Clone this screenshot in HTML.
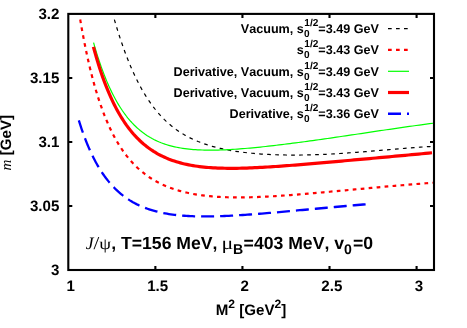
<!DOCTYPE html>
<html><head><meta charset="utf-8"><title>plot</title>
<style>
html,body{margin:0;padding:0;background:#fff;}
svg{display:block;will-change:transform;}
text{font-family:"Liberation Sans",sans-serif;font-weight:bold;fill:#000;text-rendering:geometricPrecision;font-kerning:none;}
.ser{font-family:"Liberation Serif",serif;font-weight:normal;}
.it{font-family:"Liberation Serif",serif;font-weight:normal;font-style:italic;}
</style></head><body>
<svg width="467" height="328" viewBox="0 0 467 328">
<rect width="467" height="328" fill="#fff"/>

<g fill="none" stroke-linecap="butt" stroke-linejoin="round">
<path d="M114.37,19.60 L114.47,19.93 L114.66,20.60 L114.93,21.50 L115.25,22.60 L115.63,23.87 L116.05,25.30 L116.53,26.85 L117.04,28.53 L117.59,30.31 L118.18,32.19 L118.81,34.17 L119.47,36.22 L120.17,38.34 L120.90,40.53 L121.66,42.77 L122.46,45.06 L123.28,47.40 L124.13,49.77 L125.01,52.17 L125.92,54.60 L126.86,57.04 L127.83,59.50 L128.82,61.96 L129.84,64.43 L130.88,66.90 L131.95,69.37 L133.04,71.82 L134.16,74.26 L135.31,76.69 L136.47,79.09 L137.66,81.48 L138.88,83.83 L140.11,86.16 L141.37,88.45 L142.66,90.71 L143.96,92.94 L145.29,95.13 L146.63,97.27 L148.00,99.38 L149.39,101.44 L150.80,103.46 L152.24,105.44 L153.69,107.37 L155.16,109.25 L156.66,111.09 L158.17,112.88 L159.70,114.62 L161.26,116.31 L162.83,117.96 L164.42,119.56 L166.03,121.11 L167.66,122.61 L169.31,124.07 L170.98,125.48 L172.67,126.84 L174.37,128.16 L176.09,129.43 L177.84,130.66 L179.60,131.85 L181.37,132.99 L183.17,134.10 L184.98,135.16 L186.81,136.18 L188.66,137.17 L190.53,138.11 L192.41,139.02 L194.31,139.90 L196.23,140.73 L198.16,141.54 L200.12,142.31 L202.08,143.05 L204.07,143.76 L206.07,144.44 L208.09,145.09 L210.12,145.71 L212.17,146.31 L214.24,146.88 L216.32,147.42 L218.42,147.94 L220.54,148.43 L222.67,148.91 L224.82,149.36 L226.98,149.78 L229.16,150.19 L231.35,150.58 L233.56,150.95 L235.79,151.30 L238.03,151.63 L240.29,151.94 L242.56,152.23 L244.84,152.51 L247.14,152.78 L249.46,153.02 L251.79,153.25 L254.14,153.47 L256.50,153.67 L258.88,153.85 L261.27,154.03 L263.67,154.18 L266.09,154.33 L268.53,154.46 L270.98,154.58 L273.44,154.68 L275.92,154.77 L278.41,154.85 L280.92,154.92 L283.44,154.97 L285.98,155.02 L288.52,155.05 L291.09,155.06 L293.67,155.07 L296.26,155.07 L298.86,155.05 L301.48,155.02 L304.11,154.98 L306.76,154.93 L309.42,154.87 L312.10,154.80 L314.78,154.72 L317.49,154.62 L320.20,154.52 L322.93,154.41 L325.67,154.28 L328.43,154.15 L331.19,154.01 L333.98,153.85 L336.77,153.69 L339.58,153.52 L342.40,153.34 L345.24,153.16 L348.08,152.96 L350.95,152.76 L353.82,152.55 L356.71,152.33 L359.61,152.11 L362.52,151.88 L365.45,151.65 L368.38,151.41 L371.34,151.16 L374.30,150.91 L377.28,150.66 L380.27,150.41 L383.27,150.15 L386.28,149.89 L389.31,149.63 L392.35,149.37 L395.40,149.11 L398.47,148.86 L401.55,148.60 L404.64,148.35 L407.74,148.10 L410.85,147.85 L413.98,147.61 L417.12,147.38 L420.27,147.16 L423.44,146.94 L426.61,146.73 L429.80,146.54 L433.00,146.35" stroke="#000" stroke-width="1.2" stroke-dasharray="3.7,4.3"/>
<path d="M80.20,19.50 L80.31,20.12 L80.52,21.39 L80.82,23.09 L81.17,25.15 L81.59,27.51 L82.06,30.14 L82.59,32.98 L83.15,36.02 L83.77,39.23 L84.42,42.58 L85.12,46.05 L85.85,49.62 L86.62,53.28 L87.43,57.00 L88.27,60.77 L89.15,64.57 L90.06,68.40 L91.01,72.24 L91.98,76.08 L92.99,79.90 L94.03,83.71 L95.10,87.48 L96.20,91.22 L97.33,94.92 L98.48,98.56 L99.67,102.15 L100.88,105.68 L102.12,109.14 L103.38,112.54 L104.67,115.87 L105.99,119.12 L107.34,122.30 L108.71,125.40 L110.10,128.42 L111.52,131.36 L112.96,134.22 L114.43,137.00 L115.92,139.70 L117.44,142.31 L118.98,144.85 L120.54,147.31 L122.13,149.69 L123.74,151.99 L125.37,154.21 L127.02,156.36 L128.70,158.43 L130.39,160.43 L132.11,162.35 L133.86,164.21 L135.62,165.99 L137.40,167.71 L139.21,169.36 L141.03,170.95 L142.88,172.48 L144.75,173.94 L146.64,175.34 L148.54,176.69 L150.47,177.97 L152.42,179.21 L154.39,180.38 L156.38,181.51 L158.38,182.59 L160.41,183.61 L162.46,184.59 L164.53,185.52 L166.61,186.41 L168.71,187.25 L170.84,188.05 L172.98,188.81 L175.14,189.53 L177.32,190.21 L179.52,190.85 L181.73,191.45 L183.97,192.02 L186.22,192.55 L188.49,193.05 L190.78,193.52 L193.09,193.96 L195.41,194.37 L197.75,194.74 L200.11,195.09 L202.49,195.41 L204.89,195.70 L207.30,195.97 L209.73,196.21 L212.18,196.43 L214.64,196.62 L217.12,196.79 L219.62,196.94 L222.13,197.07 L224.66,197.17 L227.21,197.26 L229.78,197.33 L232.36,197.37 L234.96,197.40 L237.57,197.42 L240.20,197.41 L242.85,197.39 L245.51,197.35 L248.19,197.30 L250.89,197.23 L253.60,197.15 L256.33,197.06 L259.07,196.95 L261.83,196.83 L264.61,196.70 L267.40,196.56 L270.21,196.41 L273.03,196.24 L275.87,196.07 L278.72,195.89 L281.59,195.69 L284.48,195.49 L287.38,195.28 L290.29,195.07 L293.22,194.84 L296.17,194.61 L299.13,194.38 L302.11,194.13 L305.10,193.88 L308.10,193.63 L311.12,193.37 L314.16,193.11 L317.21,192.84 L320.28,192.57 L323.36,192.29 L326.45,192.01 L329.56,191.73 L332.69,191.44 L335.82,191.16 L338.98,190.87 L342.15,190.58 L345.33,190.28 L348.52,189.99 L351.74,189.69 L354.96,189.40 L358.20,189.10 L361.45,188.80 L364.72,188.50 L368.00,188.20 L371.30,187.91 L374.61,187.61 L377.94,187.31 L381.27,187.02 L384.63,186.72 L387.99,186.43 L391.37,186.13 L394.77,185.84 L398.17,185.55 L401.60,185.26 L405.03,184.97 L408.48,184.68 L411.94,184.40 L415.42,184.11 L418.91,183.83 L422.41,183.55 L425.93,183.27 L429.46,183.00 L433.00,182.73" stroke="#f00" stroke-width="2.2" stroke-dasharray="3.7,4.3"/>
<path d="M93.55,42.60 L93.65,42.96 L93.86,43.69 L94.14,44.67 L94.48,45.86 L94.89,47.23 L95.34,48.76 L95.84,50.43 L96.39,52.21 L96.98,54.11 L97.61,56.10 L98.28,58.17 L98.98,60.31 L99.72,62.52 L100.50,64.78 L101.31,67.08 L102.16,69.41 L103.04,71.78 L103.95,74.16 L104.88,76.56 L105.85,78.96 L106.85,81.37 L107.88,83.76 L108.94,86.15 L110.02,88.52 L111.14,90.88 L112.28,93.20 L113.44,95.50 L114.63,97.77 L115.85,100.00 L117.09,102.19 L118.36,104.34 L119.66,106.45 L120.97,108.51 L122.31,110.53 L123.68,112.49 L125.07,114.40 L126.48,116.26 L127.92,118.07 L129.38,119.82 L130.86,121.52 L132.36,123.16 L133.89,124.74 L135.44,126.27 L137.00,127.75 L138.60,129.16 L140.21,130.52 L141.84,131.83 L143.50,133.08 L145.17,134.28 L146.87,135.43 L148.58,136.52 L150.32,137.56 L152.08,138.55 L153.85,139.49 L155.65,140.38 L157.47,141.22 L159.30,142.02 L161.16,142.77 L163.03,143.47 L164.93,144.14 L166.84,144.76 L168.77,145.34 L170.72,145.88 L172.69,146.38 L174.68,146.84 L176.69,147.27 L178.71,147.66 L180.76,148.02 L182.82,148.35 L184.90,148.65 L186.99,148.91 L189.11,149.15 L191.24,149.36 L193.39,149.54 L195.56,149.70 L197.74,149.83 L199.94,149.94 L202.16,150.02 L204.40,150.08 L206.65,150.12 L208.92,150.14 L211.21,150.15 L213.52,150.13 L215.84,150.09 L218.17,150.04 L220.53,149.97 L222.90,149.88 L225.29,149.78 L227.69,149.66 L230.11,149.53 L232.55,149.39 L235.00,149.23 L237.47,149.06 L239.95,148.88 L242.45,148.69 L244.97,148.48 L247.50,148.27 L250.04,148.04 L252.61,147.80 L255.19,147.56 L257.78,147.30 L260.39,147.03 L263.01,146.76 L265.65,146.48 L268.31,146.19 L270.98,145.89 L273.67,145.58 L276.37,145.26 L279.08,144.94 L281.81,144.61 L284.56,144.27 L287.32,143.93 L290.10,143.58 L292.89,143.22 L295.69,142.86 L298.51,142.49 L301.34,142.11 L304.19,141.73 L307.06,141.34 L309.94,140.95 L312.83,140.55 L315.73,140.14 L318.66,139.73 L321.59,139.32 L324.54,138.90 L327.50,138.47 L330.48,138.04 L333.47,137.61 L336.48,137.17 L339.50,136.73 L342.53,136.28 L345.58,135.83 L348.64,135.38 L351.72,134.93 L354.81,134.47 L357.91,134.00 L361.03,133.54 L364.16,133.07 L367.31,132.60 L370.46,132.13 L373.64,131.66 L376.82,131.19 L380.02,130.71 L383.23,130.24 L386.46,129.76 L389.69,129.29 L392.95,128.81 L396.21,128.34 L399.49,127.87 L402.78,127.39 L406.09,126.92 L409.41,126.45 L412.74,125.99 L416.08,125.52 L419.44,125.06 L422.81,124.61 L426.19,124.16 L429.59,123.71 L433.00,123.27" stroke="#0f0" stroke-width="1.2"/>
<path d="M93.42,46.90 L93.52,47.28 L93.73,48.05 L94.01,49.09 L94.36,50.35 L94.76,51.79 L95.21,53.41 L95.71,55.16 L96.26,57.05 L96.84,59.04 L97.47,61.14 L98.14,63.32 L98.84,65.57 L99.59,67.89 L100.36,70.26 L101.17,72.68 L102.01,75.14 L102.89,77.62 L103.80,80.12 L104.73,82.64 L105.70,85.17 L106.70,87.70 L107.72,90.22 L108.78,92.74 L109.86,95.24 L110.97,97.72 L112.10,100.18 L113.27,102.61 L114.45,105.01 L115.67,107.38 L116.91,109.71 L118.17,112.01 L119.46,114.26 L120.78,116.47 L122.12,118.64 L123.48,120.76 L124.86,122.83 L126.27,124.86 L127.71,126.83 L129.16,128.75 L130.64,130.62 L132.14,132.44 L133.66,134.21 L135.20,135.92 L136.77,137.58 L138.36,139.19 L139.96,140.75 L141.59,142.26 L143.24,143.71 L144.91,145.11 L146.61,146.46 L148.32,147.76 L150.05,149.01 L151.80,150.21 L153.58,151.37 L155.37,152.47 L157.18,153.53 L159.01,154.54 L160.86,155.51 L162.73,156.43 L164.62,157.31 L166.53,158.15 L168.46,158.95 L170.40,159.70 L172.37,160.42 L174.35,161.10 L176.35,161.74 L178.37,162.34 L180.41,162.91 L182.46,163.44 L184.54,163.94 L186.63,164.41 L188.74,164.85 L190.86,165.25 L193.01,165.63 L195.17,165.97 L197.35,166.29 L199.55,166.59 L201.76,166.85 L203.99,167.09 L206.24,167.31 L208.50,167.50 L210.78,167.67 L213.08,167.82 L215.40,167.95 L217.73,168.06 L220.08,168.14 L222.44,168.21 L224.82,168.26 L227.22,168.30 L229.63,168.32 L232.06,168.32 L234.51,168.30 L236.97,168.28 L239.45,168.23 L241.94,168.18 L244.45,168.11 L246.98,168.03 L249.52,167.94 L252.07,167.83 L254.64,167.72 L257.23,167.60 L259.83,167.46 L262.45,167.32 L265.09,167.17 L267.73,167.01 L270.40,166.84 L273.08,166.67 L275.77,166.49 L278.48,166.30 L281.20,166.11 L283.94,165.90 L286.70,165.70 L289.46,165.49 L292.25,165.27 L295.05,165.05 L297.86,164.82 L300.68,164.59 L303.53,164.36 L306.38,164.12 L309.25,163.88 L312.14,163.64 L315.04,163.39 L317.95,163.14 L320.88,162.89 L323.82,162.63 L326.78,162.37 L329.75,162.11 L332.73,161.85 L335.73,161.59 L338.74,161.32 L341.77,161.05 L344.81,160.78 L347.86,160.51 L350.93,160.23 L354.01,159.95 L357.11,159.68 L360.22,159.40 L363.34,159.12 L366.48,158.83 L369.63,158.55 L372.79,158.26 L375.97,157.97 L379.16,157.68 L382.36,157.39 L385.58,157.10 L388.81,156.80 L392.05,156.51 L395.31,156.21 L398.58,155.90 L401.86,155.60 L405.16,155.30 L408.47,154.99 L411.79,154.68 L415.13,154.36 L418.47,154.05 L421.84,153.73 L425.21,153.41 L428.60,153.08 L432.00,152.75" stroke="#f00" stroke-width="3.2"/>
<path d="M78.83,120.30 L78.92,120.58 L79.09,121.14 L79.33,121.91 L79.62,122.84 L79.96,123.91 L80.35,125.09 L80.77,126.39 L81.23,127.78 L81.73,129.26 L82.26,130.81 L82.83,132.43 L83.43,134.10 L84.06,135.82 L84.71,137.59 L85.40,139.39 L86.12,141.22 L86.86,143.08 L87.63,144.95 L88.42,146.84 L89.24,148.74 L90.09,150.64 L90.96,152.54 L91.85,154.44 L92.77,156.33 L93.71,158.21 L94.67,160.08 L95.66,161.93 L96.67,163.76 L97.70,165.57 L98.75,167.36 L99.82,169.12 L100.92,170.85 L102.03,172.56 L103.17,174.24 L104.32,175.88 L105.50,177.49 L106.69,179.07 L107.91,180.61 L109.14,182.12 L110.39,183.60 L111.67,185.03 L112.96,186.43 L114.27,187.80 L115.59,189.12 L116.94,190.41 L118.30,191.67 L119.69,192.88 L121.09,194.06 L122.50,195.20 L123.94,196.31 L125.39,197.38 L126.86,198.41 L128.35,199.40 L129.85,200.37 L131.37,201.29 L132.91,202.19 L134.46,203.05 L136.03,203.87 L137.61,204.66 L139.22,205.42 L140.84,206.15 L142.47,206.85 L144.12,207.52 L145.79,208.16 L147.47,208.77 L149.16,209.35 L150.88,209.90 L152.61,210.42 L154.35,210.92 L156.11,211.39 L157.88,211.84 L159.67,212.26 L161.48,212.66 L163.29,213.03 L165.13,213.38 L166.98,213.71 L168.84,214.02 L170.72,214.30 L172.61,214.57 L174.52,214.81 L176.44,215.04 L178.37,215.24 L180.32,215.43 L182.28,215.60 L184.26,215.75 L186.25,215.89 L188.26,216.01 L190.28,216.11 L192.31,216.20 L194.36,216.28 L196.42,216.33 L198.49,216.38 L200.58,216.41 L202.68,216.43 L204.80,216.43 L206.93,216.43 L209.07,216.41 L211.22,216.38 L213.39,216.34 L215.57,216.29 L217.77,216.23 L219.97,216.16 L222.19,216.08 L224.43,215.99 L226.67,215.89 L228.93,215.78 L231.21,215.67 L233.49,215.54 L235.79,215.41 L238.10,215.27 L240.42,215.13 L242.76,214.98 L245.11,214.82 L247.47,214.66 L249.84,214.49 L252.22,214.31 L254.62,214.13 L257.03,213.94 L259.46,213.75 L261.89,213.56 L264.34,213.36 L266.80,213.16 L269.27,212.95 L271.75,212.74 L274.25,212.52 L276.75,212.30 L279.27,212.08 L281.80,211.86 L284.35,211.63 L286.90,211.40 L289.47,211.17 L292.05,210.94 L294.64,210.70 L297.24,210.46 L299.85,210.22 L302.48,209.98 L305.12,209.74 L307.76,209.50 L310.42,209.25 L313.10,209.00 L315.78,208.76 L318.47,208.51 L321.18,208.26 L323.90,208.01 L326.62,207.76 L329.36,207.51 L332.12,207.26 L334.88,207.01 L337.65,206.76 L340.44,206.51 L343.23,206.26 L346.04,206.01 L348.86,205.76 L351.69,205.51 L354.53,205.26 L357.38,205.01 L360.24,204.76 L363.12,204.51 L366.00,204.27" stroke="#00f" stroke-width="2.3" stroke-dasharray="13,6"/>
</g>
<g stroke="#000" stroke-width="2.1" fill="none" stroke-linecap="butt">
<rect x="68.3" y="13.9" width="365.7" height="256.1"/>
<path d="M155.37,270.0 V266.0  M155.37,13.9 V17.9"/>
<path d="M242.44,270.0 V266.0  M242.44,13.9 V17.9"/>
<path d="M329.51,270.0 V266.0  M329.51,13.9 V17.9"/>
<path d="M416.59,270.0 V266.0  M416.59,13.9 V17.9"/>
<path d="M68.3,205.98 H72.3  M434.0,205.98 H430.0"/>
<path d="M68.3,141.95 H72.3  M434.0,141.95 H430.0"/>
<path d="M68.3,77.93 H72.3  M434.0,77.93 H430.0"/>
</g>
<g style="filter:grayscale(1)">
<text font-size="15.12" x="59.4" y="274.90" text-anchor="end">3</text>
<text font-size="15.12" x="59.4" y="210.88" text-anchor="end">3.05</text>
<text font-size="15.12" x="59.4" y="146.85" text-anchor="end">3.1</text>
<text font-size="15.12" x="59.4" y="82.83" text-anchor="end">3.15</text>
<text font-size="15.12" x="59.4" y="18.80" text-anchor="end">3.2</text>
<text font-size="15.12" x="70.60" y="290.8" text-anchor="middle">1</text>
<text font-size="15.12" x="157.67" y="290.8" text-anchor="middle">1.5</text>
<text font-size="15.12" x="244.74" y="290.8" text-anchor="middle">2</text>
<text font-size="15.12" x="331.81" y="290.8" text-anchor="middle">2.5</text>
<text font-size="15.12" x="418.89" y="290.8" text-anchor="middle">3</text>
<text font-size="15.12" x="215.7" y="315">M<tspan dy="-7.5" font-size="12.10">2</tspan><tspan dy="7.5"> [GeV</tspan><tspan dy="-7.5" font-size="12.10">2</tspan><tspan dy="7.5">]</tspan></text>
<g transform="translate(11,170.4) rotate(-90)"><text font-size="15.12" x="0" y="0"><tspan class="it">m</tspan> [GeV]</text></g>
<text font-size="12.6" x="303.8" y="33.10" text-anchor="end">Vacuum, s</text>
<text font-size="10.08" x="303.9" y="37.10">0</text>
<text font-size="10.08" x="304.3" y="26.10">1/2</text>
<text font-size="12.6" x="378.9" y="33.10" text-anchor="end">=3.49 GeV</text>
<text font-size="12.6" x="303.8" y="54.40" text-anchor="end">s</text>
<text font-size="10.08" x="303.9" y="58.40">0</text>
<text font-size="10.08" x="304.3" y="47.40">1/2</text>
<text font-size="12.6" x="378.9" y="54.40" text-anchor="end">=3.43 GeV</text>
<text font-size="12.6" x="303.8" y="75.80" text-anchor="end">Derivative, Vacuum, s</text>
<text font-size="10.08" x="303.9" y="79.80">0</text>
<text font-size="10.08" x="304.3" y="68.80">1/2</text>
<text font-size="12.6" x="378.9" y="75.80" text-anchor="end">=3.49 GeV</text>
<text font-size="12.6" x="303.8" y="97.00" text-anchor="end">Derivative, Vacuum, s</text>
<text font-size="10.08" x="303.9" y="101.00">0</text>
<text font-size="10.08" x="304.3" y="90.00">1/2</text>
<text font-size="12.6" x="378.9" y="97.00" text-anchor="end">=3.43 GeV</text>
<text font-size="12.6" x="303.8" y="118.25" text-anchor="end">Derivative, s</text>
<text font-size="10.08" x="303.9" y="122.25">0</text>
<text font-size="10.08" x="304.3" y="111.25">1/2</text>
<text font-size="12.6" x="378.9" y="118.25" text-anchor="end">=3.36 GeV</text>
<text class="it" font-size="17.64" x="85.7" y="248.75">J</text>
<text class="ser" font-size="17.64" transform="translate(93.5,248.75) scale(1.18,1.03)" x="0" y="0">/</text>
<text class="ser" font-size="17.64" transform="translate(99.3,248.75) scale(1.07,0.9)" x="0" y="0">ψ</text>
<text font-size="17.64" x="111.2" y="248.75">, T=156 MeV,</text>
<text class="ser" font-size="17.64" transform="translate(221.6,248.75) scale(1.24,1.03)" x="0" y="0">μ</text>
<text font-size="14.11" x="233.0" y="253.85">B</text>
<text font-size="17.64" x="243.6" y="248.75">=403 MeV, v</text>
<text font-size="14.11" x="343.9" y="253.85">0</text>
<text font-size="17.64" x="353.0" y="248.75">=0</text>
</g>
<path d="M388,28.6 H409" fill="none" stroke="#000" stroke-width="1.2" stroke-dasharray="3.7,4.3"/>
<path d="M388,49.9 H409" fill="none" stroke="#f00" stroke-width="2.2" stroke-dasharray="3.7,4.3"/>
<path d="M388,71.3 H409" fill="none" stroke="#0f0" stroke-width="1.2"/>
<path d="M388,92.5 H409" fill="none" stroke="#f00" stroke-width="3.2"/>
<path d="M388,113.75 H409" fill="none" stroke="#00f" stroke-width="2.3" stroke-dasharray="13,6"/>
</svg></body></html>
